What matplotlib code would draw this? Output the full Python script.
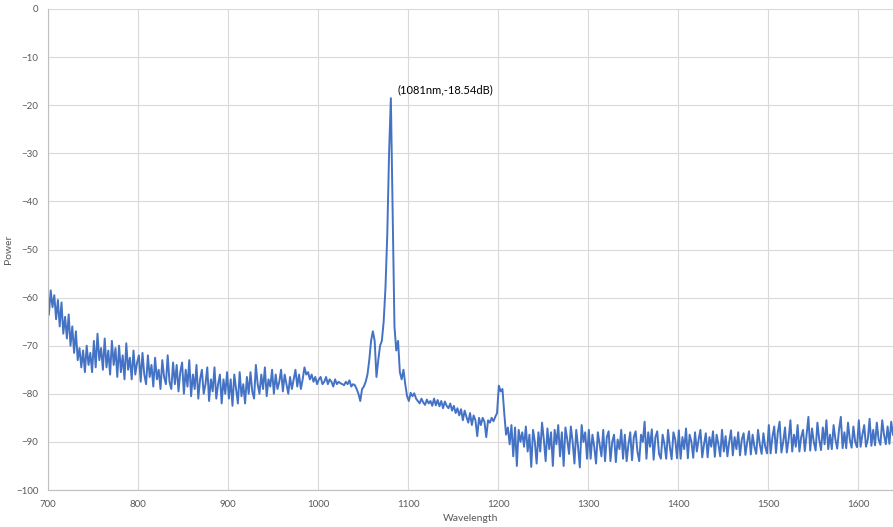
import matplotlib
matplotlib.use("Agg")
import matplotlib.pyplot as plt
import numpy as np

# spectrum sampled every 2 nm on odd wavelengths (701 ... 1639)
power_700s = [-63.5, -58.5, -62, -59.5, -64.5, -60.5, -66, -61, -67.5, -64,
              -68.5, -63.5, -70, -66, -71.5, -67, -73, -70.5, -74.5, -71,
              -75.5, -70, -74, -71.5, -75.5, -69, -74.5, -67.5, -73, -70.5,
              -75, -68.5, -74.5, -71, -76, -69, -74, -70.5, -76.5, -70,
              -75.5, -72, -77, -69.5, -75, -72.5, -77, -71, -76, -73.5]
power_800s = [-72, -77.5, -71.5, -76, -78, -72, -76.5, -74, -78.5, -72.5,
              -77, -75, -79, -73, -76.5, -78, -72, -77.5, -79, -73.5,
              -78, -74, -79.5, -75.5, -73.5, -80, -75, -78.5, -73, -80.5,
              -76, -79, -74, -81, -77, -75, -80, -78, -74.5, -81.5,
              -77, -79.5, -74.5, -81, -78, -76, -82, -77, -80, -75.5]
power_900s = [-81, -77, -82.5, -76, -79, -82, -75.5, -80.5, -78, -82,
              -76.5, -80, -75.5, -79.5, -81, -74, -78, -80, -76, -79,
              -74.5, -80.5, -77, -78.5, -75, -80, -76, -79, -77.5, -75,
              -79.5, -76, -78, -80, -76.5, -79, -77, -75, -78.5, -76,
              -79, -77, -74.5, -76, -75.5, -77, -76, -77.5, -76.5, -78]
power_1000s = [-77, -76.5, -78, -77.5, -76.5, -78, -77, -77.5, -78.5, -77,
               -78, -77.5, -77.8, -78, -78.2, -77.5, -78, -77.2, -78.5, -78,
               -78.2, -79, -80, -81.5, -79, -78.5, -77.5, -76, -73, -69,
               -67, -69, -76.5, -73, -70, -69, -65, -58, -47, -30,
               -18.54, -42, -66, -71, -69, -75.5, -77, -75, -78, -80.5]
power_1100s = [-81.5, -79.8, -80.5, -79.9, -81, -81.5, -82, -81, -81.8, -82.3,
               -81.2, -82, -81.5, -82.5, -81, -82.4, -81.3, -82.6, -81.5, -83,
               -81.6, -82.5, -83, -82, -83.5, -82.5, -84, -83, -84.5, -83.2,
               -85.5, -83.5, -84.8, -86, -84, -86.5, -84.5, -85.5, -88.8, -85,
               -86.5, -85, -85.8, -89, -85.5, -86, -85, -85.7, -84.8, -84]
power_1200s = [-78.3, -79.5, -79, -84, -88.5, -87, -90.5, -86.5, -93, -87,
               -95, -87.5, -90, -88, -91, -86.8, -92, -88.5, -95.2, -87.5,
               -90, -94.5, -88, -92, -86, -89.5, -94, -87.2, -91.5, -88,
               -95, -87.5, -90.5, -86.5, -93, -88, -95, -87, -89.5, -92.5,
               -86.8, -90, -94.5, -87.5, -91, -95.3, -86.5, -90, -88, -93.5]
power_1300s = [-87.5, -93.5, -88.5, -91, -94.5, -88, -90.5, -93, -87.5, -94,
               -89, -87.8, -94, -90, -88.5, -94.2, -89.5, -91.5, -87.5, -93.5,
               -88.5, -94, -90.5, -88, -93.8, -89, -87.8, -92, -94, -88.5,
               -90, -85.8, -93.5, -88, -91, -87.4, -93.7, -89, -87.8, -92.5,
               -93.5, -88.5, -90.5, -93.5, -87.5, -91, -93.6, -88, -89.5, -93.4]
power_1400s = [-87.6, -93.5, -89, -91.5, -87.2, -93.4, -88.5, -90, -93.3, -88,
               -92, -89.5, -87.5, -93.2, -90.5, -88.2, -93.2, -89, -91, -87.8,
               -93.1, -88.5, -90.5, -93, -87.5, -92, -88.8, -93, -90, -87.6,
               -92.8, -89, -91.5, -88, -92.8, -89.5, -88.2, -92.7, -90, -87.8,
               -92.6, -88.5, -91, -92.5, -87.5, -90.5, -92.5, -88.2, -91, -92.4]
power_1500s = [-86.5, -92.4, -89, -86.8, -92.3, -88, -85.8, -92.2, -90, -87,
               -92.2, -89.5, -85.5, -92, -88.5, -91, -86.5, -92, -89, -87.5,
               -91.9, -88.5, -84.8, -91.8, -87.2, -90, -91.8, -86, -89.5, -91.7,
               -87, -90.5, -85.5, -91.5, -88.5, -91.5, -86.5, -89.5, -91.4, -87.5,
               -84.8, -91.3, -88, -91.3, -86, -89.5, -91.2, -86.8, -90, -91.1]
power_1600s = [-85.5, -91, -88.5, -86.5, -91, -89.5, -85.2, -90.8, -87.5, -90.7,
               -86, -89.5, -90.6, -85.5, -88.5, -90.5, -86.8, -90.4, -85.8, -88.5]

power = np.concatenate([power_700s, power_800s, power_900s, power_1000s,
                        power_1100s, power_1200s, power_1300s, power_1400s,
                        power_1500s, power_1600s])
wavelength = np.arange(701, 1641, 2)[:len(power)]

peak_wl = 1081
peak_db = -18.54

plt.rcParams['font.family'] = ['Lato', 'DejaVu Sans']

fig = plt.figure(figsize=(8.93, 5.27), dpi=100)
ax = fig.add_axes([48 / 893, 1 - 490 / 527, 1 - 48 / 893, 481 / 527])

ax.plot(wavelength, power, color='#4472C4', linewidth=1.4)
ax.annotate(f'({peak_wl}nm,{peak_db}dB)', xy=(peak_wl, peak_db),
            xytext=(5, 6), textcoords='offset points',
            ha='left', va='center', fontsize=8, color='black')

ax.set_xlim(700, 1639)
ax.set_ylim(-100, 0)
ax.set_xticks(np.arange(700, 1601, 100))
ax.set_yticks(np.arange(-100, 1, 10))
ax.grid(True, color='#d9d9d9', linewidth=0.8)
ax.set_axisbelow(True)
for side in ('top', 'right'):
    ax.spines[side].set_visible(False)
for side in ('left', 'bottom'):
    ax.spines[side].set_color('#bfbfbf')
ax.tick_params(length=0, labelsize=7, labelcolor='#595959', pad=7)
ax.set_xlabel('Wavelength', fontsize=7.5, color='#595959', labelpad=4)
ax.set_ylabel('Power', fontsize=7.5, color='#595959', labelpad=2)

fig.savefig('out.png', dpi=100)
